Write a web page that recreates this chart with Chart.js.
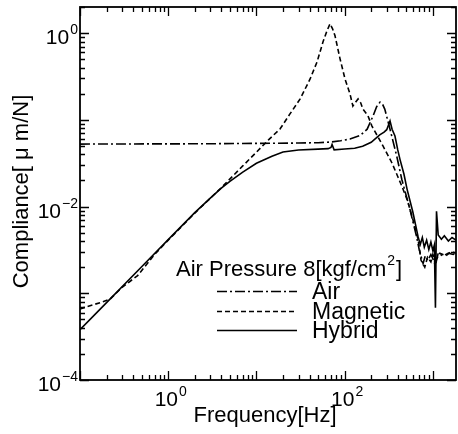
<!DOCTYPE html>
<html>
<head>
<meta charset="utf-8">
<script src="https://cdn.jsdelivr.net/npm/chart.js@4.4.0/dist/chart.umd.min.js"></script>
<style>
  html, body { margin: 0; padding: 0; background: #fff; }
  #wrap { width: 458px; height: 434px; }
</style>
</head>
<body>
<div id="wrap"><canvas id="chart" width="458" height="434"></canvas></div>
<script>
// frequency [Hz] / compliance [um/N]
const airFreq = [0.1, 0.3, 1, 3, 10, 30, 50, 70, 90, 115, 150, 180, 210, 230, 252, 270, 285, 327, 390, 445,
  550, 650, 700, 775, 820, 880, 950, 1000, 1070, 1150, 1300, 1500, 1700, 1830];
const airComp = [0.0525, 0.0527, 0.0528, 0.053, 0.0535, 0.054, 0.0545, 0.0555, 0.0575, 0.06, 0.066, 0.078, 0.111, 0.141, 0.16, 0.15, 0.133, 0.078, 0.038, 0.0205,
  0.0093, 0.0046, 0.0032, 0.0022, 0.0027, 0.0024, 0.0028, 0.0025, 0.0021, 0.0029, 0.0027, 0.0029, 0.0028, 0.0029];

const magFreq = [0.1, 0.13, 0.17, 0.22, 0.3, 0.45, 0.7, 1, 2, 4, 7, 10, 14, 18.5, 24, 31.3, 40.6, 48.7, 56.9, 63,
  68.3, 73, 77.8, 88.7, 101, 115, 124, 133, 142, 152, 161, 184, 204, 272, 344, 400, 445, 510, 594, 680,
  735, 810, 870, 950, 1000, 1080, 1200, 1400, 1600, 1830];
const magComp = [6.6e-4, 7.2e-4, 7.8e-4, 8.6e-4, 1.17e-3, 1.6e-3, 2.8e-3, 4.1e-3, 8.4e-3, 0.0165, 0.0294, 0.0424, 0.06, 0.0783, 0.117, 0.174, 0.296, 0.466, 0.794, 1.06,
  1.28, 1.12, 0.93, 0.505, 0.296, 0.199, 0.144, 0.16, 0.174, 0.157, 0.133, 0.111, 0.0847, 0.05, 0.0318, 0.0222, 0.0172, 0.0121, 0.0071, 0.0042,
  0.0024, 0.002, 0.0026, 0.0023, 0.0028, 0.0024, 0.0029, 0.0027, 0.003, 0.0029];

const hybFreq = [0.1, 0.2, 0.5, 1, 2, 3, 4, 5, 7, 10, 15, 20, 30, 50, 65, 70, 72, 76, 100, 130,
  160, 200, 250, 280, 300, 327, 345, 372, 400, 424, 470, 510, 594, 680, 720, 760, 800, 850, 900, 950,
  1000, 1040, 1070, 1100, 1150, 1250, 1350, 1500, 1650, 1830];
const hybComp = [3.8e-4, 7.8e-4, 2.02e-3, 4.15e-3, 8.5e-3, 0.0125, 0.0163, 0.0195, 0.025, 0.0316, 0.038, 0.0425, 0.0448, 0.046, 0.0465, 0.048, 0.052, 0.045, 0.046, 0.047,
  0.0497, 0.055, 0.067, 0.072, 0.077, 0.097, 0.078, 0.065, 0.045, 0.035, 0.0237, 0.0159, 0.0086, 0.0045, 0.00366, 0.0044, 0.0034, 0.0041, 0.0032, 0.0039,
  0.0031, 0.0036, 0.00068, 0.0088, 0.0047, 0.0042, 0.0046, 0.004, 0.0044, 0.0041];

const seriesNames = ['Air', 'Magnetic', 'Hybrid'];
const xLabelExps = [0, 2];
const yLabelExps = [0, -2, -4];
const legendTitle = 'Air Pressure 8[kgf/cm';

const FONT = '"Liberation Sans", Arial, Helvetica, sans-serif';
const dashes = [[10, 3, 2, 3], [5, 3], []];

function toPoints(xs, ys) {
  return xs.map((x, i) => ({ x: x, y: ys[i] }));
}

// "10" with a raised exponent
function drawPow(ctx, exp, x, baseline, align) {
  const e = exp < 0 ? '\u2212' + Math.abs(exp) : String(exp);
  ctx.font = '21px ' + FONT;
  const wb = ctx.measureText('10').width;
  ctx.font = '14px ' + FONT;
  const we = ctx.measureText(e).width;
  let x0 = align === 'right' ? x - wb - we : x - (wb + we) / 2;
  ctx.textAlign = 'left';
  ctx.textBaseline = 'alphabetic';
  ctx.font = '21px ' + FONT;
  ctx.fillText('10', x0, baseline);
  ctx.font = '14px ' + FONT;
  ctx.fillText(e, x0 + wb + 1, baseline - 10);
}

const framePlugin = {
  id: 'frame',
  beforeDraw(chart) {
    const ctx = chart.ctx;
    ctx.save();
    ctx.fillStyle = '#fff';
    ctx.fillRect(0, 0, chart.width, chart.height);
    ctx.restore();
  },
  afterDraw(chart) {
    const ctx = chart.ctx;
    const a = chart.chartArea;
    const xs = chart.scales.x;
    const ys = chart.scales.y;
    ctx.save();
    ctx.strokeStyle = '#000';
    ctx.fillStyle = '#000';
    ctx.lineWidth = 1.8;
    ctx.setLineDash([]);
    ctx.strokeRect(a.left, a.top, a.right - a.left, a.bottom - a.top);

    // inward ticks on all four sides
    ctx.lineWidth = 1.3;
    ctx.beginPath();
    for (let k = -1; k <= 3; k++) {
      for (let m = 1; m <= 9; m++) {
        const v = m * Math.pow(10, k);
        if (v < xs.min || v > xs.max) continue;
        const px = Math.round(xs.getPixelForValue(v)) + 0.5;
        const len = m === 1 ? 9 : 5;
        ctx.moveTo(px, a.bottom); ctx.lineTo(px, a.bottom - len);
        ctx.moveTo(px, a.top); ctx.lineTo(px, a.top + len);
      }
    }
    for (let k = -4; k <= 0; k++) {
      for (let m = 1; m <= 9; m++) {
        const v = m * Math.pow(10, k);
        if (v < ys.min || v > ys.max) continue;
        const py = Math.round(ys.getPixelForValue(v)) + 0.5;
        const len = m === 1 ? 9 : 5;
        ctx.moveTo(a.left, py); ctx.lineTo(a.left + len, py);
        ctx.moveTo(a.right, py); ctx.lineTo(a.right - len, py);
      }
    }
    ctx.stroke();

    // tick labels
    xLabelExps.forEach(e => drawPow(ctx, e, xs.getPixelForValue(Math.pow(10, e)) + 2, a.bottom + 26, 'center'));
    yLabelExps.forEach(e => drawPow(ctx, e, a.left - 3, ys.getPixelForValue(Math.pow(10, e)) + 11, 'right'));

    // axis titles
    ctx.font = '22px ' + FONT;
    ctx.textAlign = 'center';
    ctx.textBaseline = 'alphabetic';
    ctx.fillText('Frequency[Hz]', (a.left + a.right) / 2 - 3, 422);
    ctx.save();
    ctx.translate(28, (a.top + a.bottom) / 2 - 2);
    ctx.rotate(-Math.PI / 2);
    ctx.fillText('Compliance[ \u03bc m/N]', 0, 0);
    ctx.restore();

    // legend
    ctx.textAlign = 'left';
    ctx.font = '22px ' + FONT;
    let tx = 176;
    ctx.fillText(legendTitle, tx, 276);
    tx += ctx.measureText(legendTitle).width + 1;
    ctx.font = '14px ' + FONT;
    ctx.fillText('2', tx, 265);
    tx += ctx.measureText('2').width + 1;
    ctx.font = '22px ' + FONT;
    ctx.fillText(']', tx, 276);

    const rowY = [291.5, 311.5, 330.5];
    ctx.font = '23px ' + FONT;
    seriesNames.forEach((name, i) => {
      ctx.lineWidth = 1.6;
      ctx.setLineDash(dashes[i]);
      ctx.beginPath();
      ctx.moveTo(217, rowY[i]);
      ctx.lineTo(297, rowY[i]);
      ctx.stroke();
      ctx.setLineDash([]);
      ctx.fillText(name, 312, rowY[i] + 7);
    });
    ctx.restore();
  }
};

const series = [toPoints(airFreq, airComp), toPoints(magFreq, magComp), toPoints(hybFreq, hybComp)];

new Chart(document.getElementById('chart'), {
  type: 'scatter',
  data: {
    datasets: seriesNames.map((name, i) => ({
      label: name,
      data: series[i],
      showLine: true,
      borderColor: '#000',
      backgroundColor: '#000',
      borderWidth: 1.6,
      borderDash: dashes[i],
      pointRadius: 0,
      tension: 0,
    })),
  },
  options: {
    responsive: false,
    animation: false,
    events: [],
    layout: { padding: { left: 80, top: 7, right: 2, bottom: 54 } },
    plugins: { legend: { display: false }, tooltip: { enabled: false } },
    scales: {
      x: { type: 'logarithmic', min: 0.1, max: 1830, display: false },
      y: { type: 'logarithmic', min: 1e-4, max: 2, display: false },
    },
  },
  plugins: [framePlugin],
});
</script>
</body>
</html>
